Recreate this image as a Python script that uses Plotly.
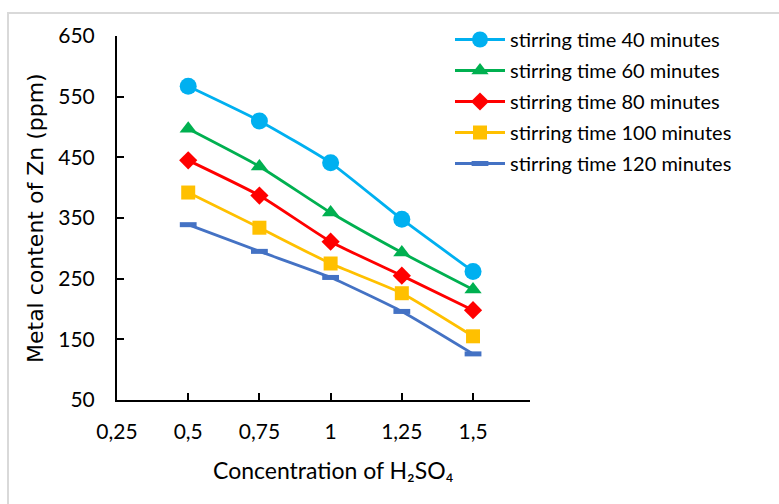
import plotly.graph_objects as go

conc = [0.5, 0.75, 1.0, 1.25, 1.5]
t40 = [567, 510, 441, 348, 262]
t60 = [497, 435, 359, 293, 232]
t80 = [445, 387, 311, 255, 198]
t100 = [392, 334, 275, 226, 155]
t120 = [339, 295, 252, 196, 126]

names = ["stirring time 40 minutes", "stirring time 60 minutes", "stirring time 80 minutes",
         "stirring time 100 minutes", "stirring time 120 minutes"]
x_tickvals = [0.25, 0.5, 0.75, 1.0, 1.25, 1.5]
x_ticktext = ["0,25", "0,5", "0,75", "1", "1,25", "1,5"]
y_tickvals = [50, 150, 250, 350, 450, 550, 650]

series = [t40, t60, t80, t100, t120]
colors = ["#00B0F0", "#00B050", "#FF0000", "#FFC000", "#4472C4"]
symbols = ["circle", "triangle-up", "diamond", "square", "line-ew"]
sizes = [17, 15, 14, 14, 12]

fig = go.Figure()
for i, (s, n, c, sym, sz) in enumerate(zip(series, names, colors, symbols, sizes)):
    marker = dict(symbol=sym, size=sz, color=c, line=dict(width=0, color=c))
    if sym == "line-ew":
        marker = dict(symbol=sym, size=sz, color=c, line=dict(width=5, color=c))
    fig.add_trace(go.Scatter(x=conc, y=s, name=n, mode="lines+markers", legendgroup=f"g{i}",
                             line=dict(color=c, width=2.8, shape="spline", smoothing=0.5),
                             marker=marker))

W, H = 779, 504
L, R, T, B = 117, 249, 36, 104
pw, ph = W - L - R, H - T - B

def px(x):
    return (x - L) / pw

def py(y):
    return (H - B - y) / ph

fig.update_layout(
    width=W, height=H,
    margin=dict(l=L, r=R, t=T, b=B),
    paper_bgcolor="white", plot_bgcolor="white",
    font=dict(family="Lato", color="#000000"),
    legend=dict(x=px(450), y=py(20), xanchor="left", yanchor="top",
                font=dict(family="Lato", size=20, color="#000000"),
                bgcolor="rgba(0,0,0,0)", itemwidth=50, tracegroupgap=2),
    xaxis=dict(range=[0.25, 1.7], tickvals=x_tickvals, ticktext=x_ticktext,
               showline=True, linecolor="#000000", linewidth=2, ticks="inside",
               ticklen=7, tickwidth=1.5, tickcolor="#000000", showgrid=False,
               zeroline=False, tickfont=dict(family="Lato", size=21),
               ticklabelstandoff=12),
    yaxis=dict(range=[50, 650], tickvals=y_tickvals,
               showline=True, linecolor="#000000", linewidth=2, ticks="inside",
               ticklen=7, tickwidth=1.5, tickcolor="#000000", showgrid=False,
               zeroline=False, tickfont=dict(family="Lato", size=21),
               ticklabelstandoff=16),
    shapes=[dict(type="rect", xref="paper", yref="paper",
                 x0=px(8), x1=px(790), y0=py(520), y1=py(13),
                 line=dict(color="#D9D9D9", width=2), fillcolor="rgba(0,0,0,0)", layer="below")],
    annotations=[
        dict(text="Concentration of H₂SO₄", xref="paper", yref="paper",
             x=px(333), y=py(470), xanchor="center", yanchor="middle", showarrow=False,
             font=dict(family="Lato", size=23, color="#000000")),
        dict(text="Metal content of Zn (ppm)", xref="paper", yref="paper",
             x=px(35), y=py(218), xanchor="center", yanchor="middle", showarrow=False,
             textangle=-90, font=dict(family="DejaVu Sans", size=22, color="#000000")),
    ],
)

fig.write_html("out.html")
